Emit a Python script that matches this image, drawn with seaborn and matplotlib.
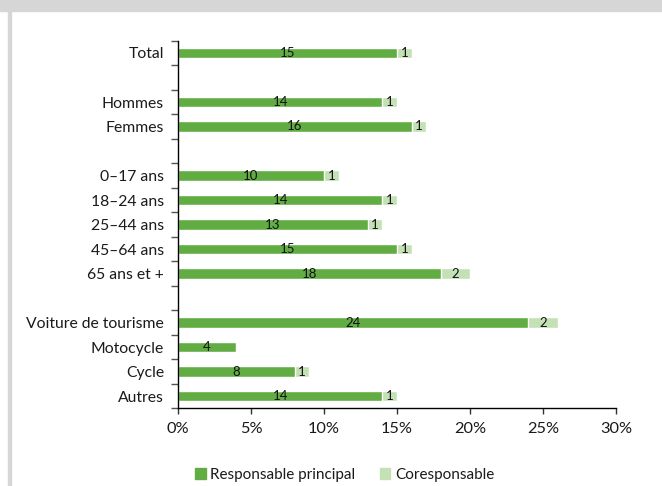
import matplotlib
matplotlib.use("Agg")
import matplotlib.pyplot as plt
from matplotlib.patches import Rectangle
from matplotlib.ticker import FuncFormatter, MultipleLocator
import numpy as np
import pandas as pd
import seaborn as sns

# Share of drivers involved, by category (%)
categories = ["Total", "Hommes", "Femmes", "0–17 ans", "18–24 ans", "25–44 ans",
              "45–64 ans", "65 ans et +", "Voiture de tourisme", "Motocycle",
              "Cycle", "Autres"]
principal = [15, 14, 16, 10, 14, 13, 15, 18, 24, 4, 8, 14]
coresponsable = [1, 1, 1, 1, 1, 1, 1, 2, 2, 0, 1, 1]

# Row order with empty spacer rows between groups
row_order = ["Total", " ", "Hommes", "Femmes", "  ", "0–17 ans", "18–24 ans",
             "25–44 ans", "45–64 ans", "65 ans et +", "   ",
             "Voiture de tourisme", "Motocycle", "Cycle", "Autres"]

dark = "#62AD43"
light = "#C3E1B5"

df = pd.DataFrame({"cat": categories, "principal": principal,
                   "coresponsable": coresponsable})
df["total"] = df["principal"] + df["coresponsable"]

sns.set_style("white")
plt.rcParams["font.family"] = ["Lato", "DejaVu Sans"]

fig = plt.figure(figsize=(6.62, 4.86), dpi=100)
ax = fig.add_axes([178 / 662, 1 - 408.25 / 486, 438 / 662, 367.5 / 486])

# Stacked bars: full length in light green, principal part on top in dark green
sns.barplot(data=df, y="cat", x="total", order=row_order, color=light,
            width=0.42, saturation=1, ax=ax, orient="h")
sns.barplot(data=df, y="cat", x="principal", order=row_order, color=dark,
            width=0.42, saturation=1, ax=ax, orient="h")

pos = {c: row_order.index(c) for c in categories}
for c, p, q in zip(categories, principal, coresponsable):
    y = pos[c]
    ax.text(p / 2, y, f"{p}", ha="center", va="center", fontsize=9.5, color="#111111")
    if q > 0:
        ax.text(p + q / 2, y, f"{q}", ha="center", va="center", fontsize=9.5,
                color="#111111")

ax.set_xlim(0, 30)
ax.set_ylim(len(row_order) - 0.5, -0.5)
ax.xaxis.set_major_locator(MultipleLocator(5))
ax.xaxis.set_major_formatter(FuncFormatter(lambda v, _: f"{v:.0f}%"))
ax.set_xlabel("")
ax.set_ylabel("")

ax.set_yticks(range(len(row_order)))
ax.set_yticklabels(row_order)
ax.set_yticks(np.arange(-0.5, len(row_order), 1), minor=True)
ax.tick_params(axis="y", which="major", length=0, pad=10, labelsize=11.3,
               colors="#1a1a1a")
ax.tick_params(axis="y", which="minor", length=5, width=1, color="#555555",
               direction="out", left=True)
ax.tick_params(axis="x", which="major", length=4, width=1, color="#333333",
               direction="out", bottom=True, labelsize=11.8, labelcolor="#1a1a1a",
               pad=6)

for s in ["top", "right"]:
    ax.spines[s].set_visible(False)
for s in ["left", "bottom"]:
    ax.spines[s].set_color("black")
    ax.spines[s].set_linewidth(1)
ax.grid(False)

handles = [Rectangle((0, 0), 1, 1, color=dark), Rectangle((0, 0), 1, 1, color=light)]
fig.legend(handles, ["Responsable principal", "Coresponsable"], loc="center",
           bbox_to_anchor=(344.5 / 662, 1 - 475 / 486), ncol=2, frameon=False,
           fontsize=11, handlelength=0.7, handleheight=0.7, handletextpad=0.3,
           columnspacing=1.6, labelcolor="#1a1a1a")

# Grey frame along the top and left edges
fig.patches.append(Rectangle((0, 1 - 11 / 486), 1, 11 / 486,
                             transform=fig.transFigure, color="#D6D6D6", zorder=0))
fig.patches.append(Rectangle((8 / 662, 0), 3 / 662, 1,
                             transform=fig.transFigure, color="#D6D6D6", zorder=0))

fig.savefig("out.png", dpi=100)
